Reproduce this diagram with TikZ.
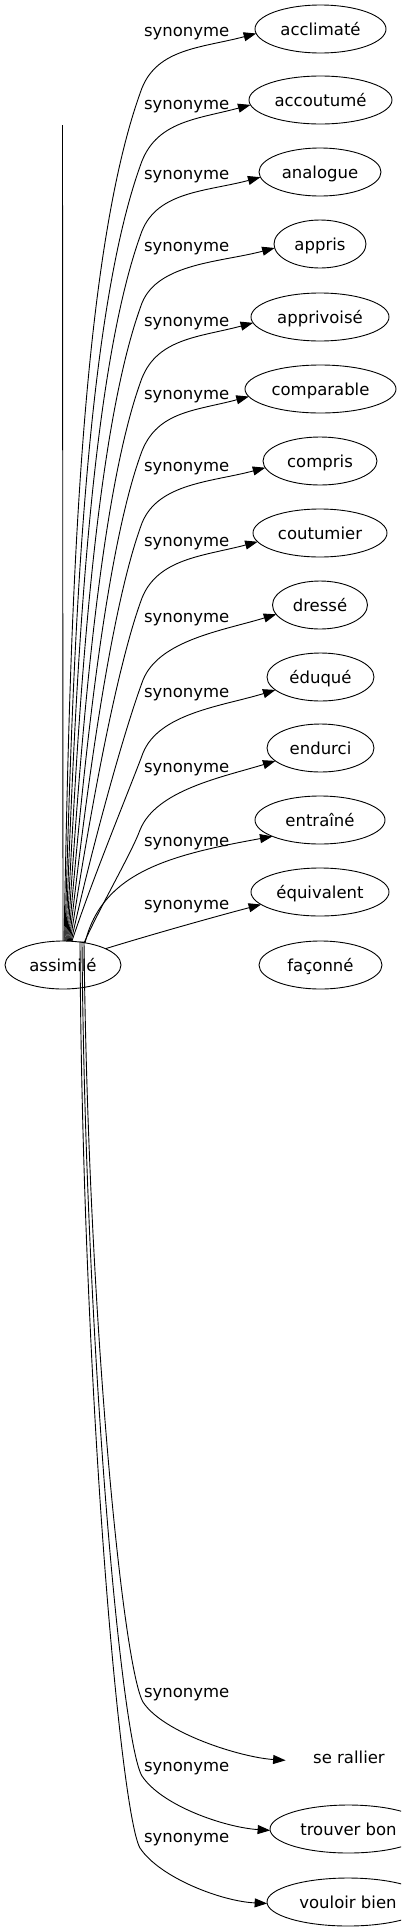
\documentclass[tikz,border=0pt]{standalone}
\usepackage{fontspec}
\setmainfont{DejaVu Sans}
\usetikzlibrary{arrows.meta,calc,shapes.geometric}
\newcommand{\dfont}{\fontsize{16.5bp}{19bp}\selectfont}
\begin{document}
\begin{tikzpicture}[x=1bp,y=-1bp,
  ell/.style={draw, ellipse, line width=0.9bp, inner sep=0pt, outer sep=0pt,
    minimum height=48bp, text height=12.5bp, text depth=0pt, font=\dfont},
  noborder/.style={ellipse, inner sep=0pt, outer sep=0pt,
    minimum height=48bp, text height=12.5bp, text depth=0pt, font=\dfont},
  lab/.style={inner sep=0pt, outer sep=0pt, anchor=base west, font=\dfont},
  syn/.style={line width=0.9bp, -{Triangle[length=12.5bp,width=9bp]}},
  lineonly/.style={line width=0.9bp}]
\useasboundingbox (0,0) rectangle (401,1931);
\clip (0,0) rectangle (401,1931);

% nodes
\node[ell, minimum width=116bp] (A) at (63,965) {assimilé};
\node[ell, minimum width=131bp] (n1) at (320.5,29) {acclimaté};
\node[ell, minimum width=143bp] (n2) at (320.5,100) {accoutumé};
\node[ell, minimum width=122bp] (n3) at (320,172) {analogue};
\node[ell, minimum width=92bp] (n4) at (320,244) {appris};
\node[ell, minimum width=138bp] (n5) at (320,317) {apprivoisé};
\node[ell, minimum width=151bp] (n6) at (320.5,389) {comparable};
\node[ell, minimum width=114bp] (n7) at (320,461) {compris};
\node[ell, minimum width=134bp] (n8) at (320,533) {coutumier};
\node[ell, minimum width=95bp] (n9) at (320,605) {dressé};
\node[ell, minimum width=107bp] (n10) at (320.5,677) {éduqué};
\node[ell, minimum width=107bp] (n11) at (320.5,748) {endurci};
\node[ell, minimum width=130bp] (n12) at (320,820) {entraîné};
\node[ell, minimum width=138bp] (n13) at (320,892) {équivalent};
\node[ell, minimum width=123bp] (n14) at (320.5,965) {façonné};
\node[noborder, minimum width=128bp] (r1) at (349,1757) {se rallier};
\node[ell, minimum width=157bp] (r2) at (348.5,1829) {trouver bon};
\node[ell, minimum width=162bp] (r3) at (348,1902) {vouloir bien};

% labels
\node[lab] (l1) at (144,36.4) {synonyme};
\node[lab] (l2) at (144,109.4) {synonyme};
\node[lab] (l3) at (144,179.4) {synonyme};
\node[lab] (l4) at (144,251.4) {synonyme};
\node[lab] (l5) at (144,326.4) {synonyme};
\node[lab] (l6) at (144,399.4) {synonyme};
\node[lab] (l7) at (144,471.4) {synonyme};
\node[lab] (l8) at (144,546.4) {synonyme};
\node[lab] (l9) at (144,622.4) {synonyme};
\node[lab] (l10) at (144,697.4) {synonyme};
\node[lab] (l11) at (144,772.4) {synonyme};
\node[lab] (l12) at (144,846.4) {synonyme};
\node[lab] (l13) at (144,909.4) {synonyme};
\node[lab] (l15) at (144,1697.4) {synonyme};
\node[lab] (l16) at (144,1771.4) {synonyme};
\node[lab] (l17) at (144,1842.4) {synonyme};

% the bare vertical line
\coordinate (vtop) at (62.5,125);
\draw[lineonly] (A.north) -- (vtop);

% upper edges
\draw[syn] ($(A.north)+(1,0)$) .. controls (69.6,658.8) and (76.4,264.2) .. (142,88)
  .. controls (158,48) and ($(n1.184)+(-53.1,14.2)$) .. (n1.184);
\draw[syn] ($(A.north)+(1.9,0)$) .. controls (72.2,682.9) and (82,322.1) .. (142,161)
  .. controls (158,121) and ($(n2.184)+(-53.1,14.2)$) .. (n2.184);
\draw[syn] ($(A.north)+(2.8,0)$) .. controls (74.6,706) and (87.4,377.6) .. (142,231)
  .. controls (158,191) and ($(n3.185)+(-53.1,14.2)$) .. (n3.185);
\draw[syn] ($(A.north)+(3.7,0)$) .. controls (77.2,729.8) and (93,434.7) .. (142,303)
  .. controls (158,263) and ($(n4.185)+(-53.1,14.2)$) .. (n4.185);
\draw[syn] ($(A.north)+(4.6,0)$) .. controls (79.8,754.5) and (98.7,494.2) .. (142,378)
  .. controls (158,338) and ($(n5.185)+(-53.1,14.2)$) .. (n5.185);
\draw[syn] ($(A.north)+(5.5,0)$) .. controls (82.3,778.6) and (104.3,552.1) .. (142,451)
  .. controls (158,411) and ($(n6.186)+(-53.1,14.2)$) .. (n6.186);
\draw[syn] ($(A.north)+(6.4,0)$) .. controls (84.9,802.4) and (109.9,609.2) .. (142,523)
  .. controls (158,483) and ($(n7.187)+(-53.1,14.2)$) .. (n7.187);
\draw[syn] ($(A.north)+(7.3,0)$) .. controls (87.5,827.1) and (115.7,668.7) .. (142,598)
  .. controls (158,558) and ($(n8.188)+(-53.1,14.2)$) .. (n8.188);
\draw[syn] ($(A.north)+(8.2,0)$) .. controls (90.2,854.2) and (123,733.8) .. (143,680)
  .. controls (159,640) and ($(n9.192)+(-52.6,16.1)$) .. (n9.192);
\draw[syn] ($(A.north)+(9,0)$) .. controls (92.6,878.3) and (128.6,791.6) .. (143,753)
  .. controls (159,713) and ($(n10.196)+(-52.6,16.1)$) .. (n10.196);
\draw[syn] ($(A.north)+(21,2)$) .. controls (100.5,906) and (131.3,853.4) .. (140,830)
  .. controls (156,790) and ($(n11.196)+(-52.6,16.1)$) .. (n11.196);
\draw[syn] ($(A.north)+(22,2)$) .. controls (102,872) and (170,855) .. (n12.199);
\draw[syn] (A.21) .. controls (150,935) and (210,918) .. (n13.192);

% lower edges
\draw[syn] ($(A.north)+(21,0)$) .. controls (88,1321) and (123,1667) .. (143,1702)
  .. controls (163,1733) and ($(r1.183)+(-45,-3)$) .. (r1.183);
\draw[syn] ($(A.north)+(19,0)$) .. controls (85,1340) and (121,1741) .. (142,1776)
  .. controls (162,1806) and ($(r2.181)+(-45,-3)$) .. (r2.181);
\draw[syn] ($(A.north)+(17,0)$) .. controls (82,1380) and (120,1813) .. (140,1848)
  .. controls (160,1878) and ($(r3.181)+(-45,-2)$) .. (r3.181);
\end{tikzpicture}
\end{document}
